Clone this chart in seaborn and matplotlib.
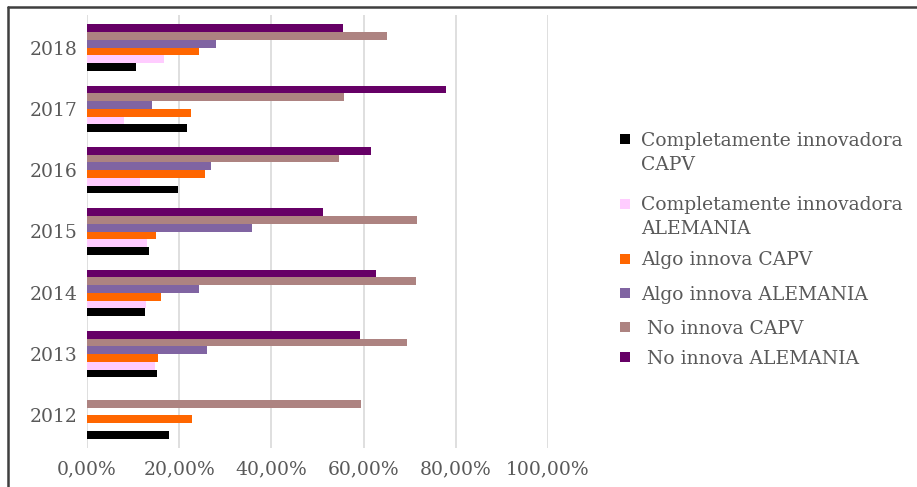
import matplotlib
matplotlib.use("Agg")
import matplotlib.pyplot as plt
from matplotlib.patches import Rectangle
from matplotlib.lines import Line2D
from matplotlib.ticker import FuncFormatter
import numpy as np
import pandas as pd
import seaborn as sns

# Years, top to bottom
years = ["2018", "2017", "2016", "2015", "2014", "2013", "2012"]

series = [
    "Completamente innovadora\nCAPV",
    "Completamente innovadora\nALEMANIA",
    "Algo innova CAPV",
    "Algo innova ALEMANIA",
    " No innova CAPV",
    " No innova ALEMANIA",
]

# Shares (%) per year, same order as `years`; nan = no data
compl_capv = [10.7, 21.7, 19.8, 13.4, 12.5, 15.2, 17.7]
compl_alem = [16.6, 8.0, 11.6, 13.1, 12.8, 14.7, np.nan]
algo_capv = [24.2, 22.5, 25.7, 14.9, 16.0, 15.3, 22.8]
algo_alem = [27.9, 14.1, 26.8, 35.8, 24.4, 26.1, np.nan]
no_capv = [65.0, 55.7, 54.6, 71.6, 71.4, 69.5, 59.5]
no_alem = [55.5, 77.9, 61.6, 51.2, 62.7, 59.3, np.nan]

colors = ["#000000", "#FFCCFF", "#FF6600", "#8064A2", "#AD8381", "#660066"]

values = [compl_capv, compl_alem, algo_capv, algo_alem, no_capv, no_alem]
rows = []
for name, vals in zip(series, values):
    for y, v in zip(years, vals):
        if not np.isnan(v):
            rows.append({"year": y, "serie": name, "valor": v})
df = pd.DataFrame(rows)

sns.set_style("white")
plt.rcParams["font.family"] = ["DejaVu Serif"]

W, H = 917, 487
fig = plt.figure(figsize=(W / 100, H / 100), dpi=100)
ax = fig.add_axes([87 / W, 39 / H, 461 / W, 433 / H])

# Last series drawn on top within each year group
draw_order = series[::-1]
palette = dict(zip(series, colors))
sns.barplot(data=df, x="valor", y="year", hue="serie", order=years,
            hue_order=draw_order, palette=palette, orient="h",
            width=0.76, errorbar=None, saturation=1, linewidth=0,
            legend=False, ax=ax, zorder=3)

ax.set_xlim(0, 100)
ax.set_ylim(6.53, -0.53)
ax.set_xticks(np.arange(0, 101, 20))
ax.xaxis.set_major_formatter(FuncFormatter(lambda v, p: f"{v:.2f}%".replace(".", ",")))
ax.grid(axis="x", color="#D9D9D9", linewidth=1.2, zorder=0)
ax.grid(axis="y", visible=False)
for s in ax.spines.values():
    s.set_visible(False)
ax.tick_params(axis="both", length=0, labelsize=13.5, colors="#595959")
ax.tick_params(axis="x", pad=9)
ax.tick_params(axis="y", pad=7)
ax.set_xlabel("")
ax.set_ylabel("")

# Legend: square key aligned with the first line of each label
def px(x, y):
    return x / W, 1 - y / H

key_centers = [139, 204, 258.5, 293, 327, 357]
for name, col, yc in zip(series, colors, key_centers):
    x0, y0 = px(620, yc + 5)
    fig.add_artist(Rectangle((x0, y0), 10 / W, 10 / H, facecolor=col,
                             edgecolor="none", transform=fig.transFigure))
    for i, line in enumerate(name.split("\n")):
        tx, ty = px(641, yc + 6.5 + 24 * i)
        fig.text(tx, ty, line, fontsize=13.5, color="#595959",
                 ha="left", va="baseline")

# Outer frame (top and left edges)
fig.add_artist(Line2D([8 / W, 1], [1 - 7 / H] * 2, color="#3F3F3F", lw=1.8,
                      transform=fig.transFigure))
fig.add_artist(Line2D([8 / W] * 2, [0, 1 - 7 / H], color="#3F3F3F", lw=1.8,
                      transform=fig.transFigure))

fig.savefig("out.png", dpi=100)
